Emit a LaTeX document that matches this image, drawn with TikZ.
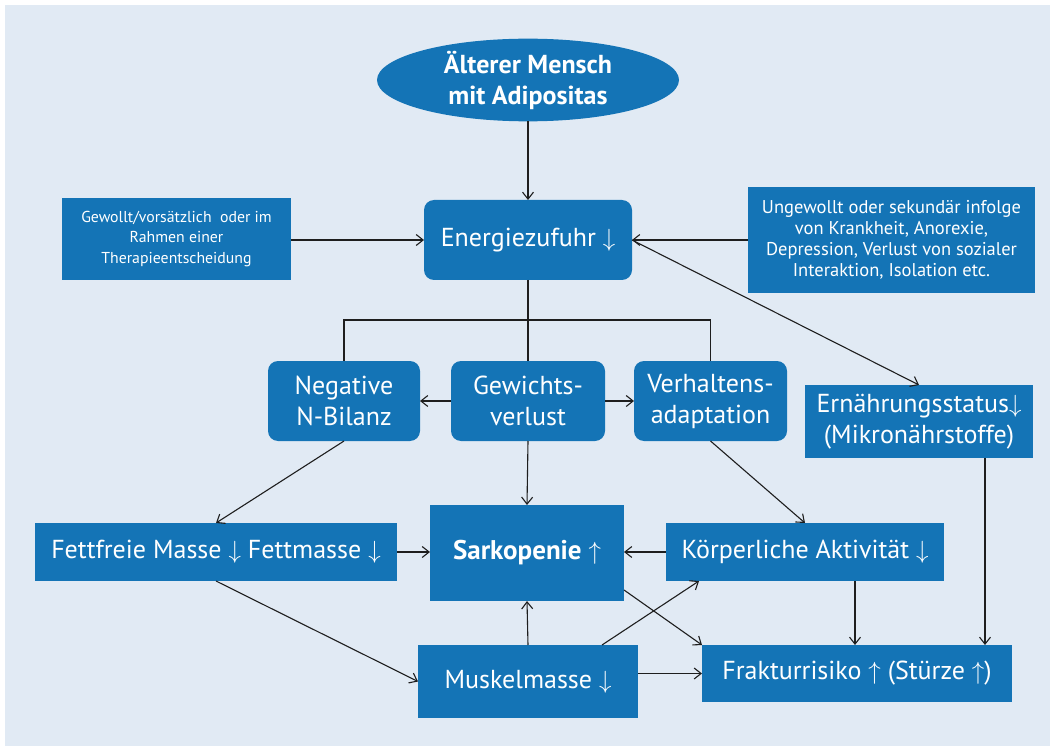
\documentclass[tikz,border=0pt]{standalone}
\usepackage{fontspec}
\setmainfont{PT Sans}
\usetikzlibrary{shapes.geometric,arrows.meta}
\definecolor{boxblue}{RGB}{20,116,182}
\definecolor{bgblue}{RGB}{225,234,244}
\definecolor{linec}{RGB}{30,30,30}
\begin{document}
\begin{tikzpicture}[x=1pt,y=-1pt,
  base/.style={fill=boxblue,text=white,inner sep=0pt,outer sep=0pt,align=center},
  sq/.style={base,rectangle},
  rd/.style={base,rectangle,rounded corners=10pt},
  big/.style={font=\fontsize{26}{31}\selectfont},
  small/.style={font=\fontsize{15.8}{20.5}\selectfont},
  mid/.style={font=\fontsize{18.5}{21}\selectfont},
  conn/.style={draw=linec,line width=1.1pt},
  arr/.style={conn,-{Straight Barb[length=7pt,width=11pt,line width=1.1pt]}}]
\useasboundingbox (0,0) rectangle (1050,746);
\fill[white] (0,0) rectangle (1050,746);
\fill[bgblue] (5,5) rectangle (1050,746);

\node[base,ellipse,minimum width=302pt,minimum height=70pt,font=\fontsize{26}{31}\selectfont\bfseries] (ell) at (528,80) {Älterer Mensch\\mit Adipositas};
\node[rd,big,minimum width=208pt,minimum height=80pt] (energie) at (528,240) {Energiezufuhr $\downarrow$};
\node[sq,small,minimum width=229pt,minimum height=82pt] (gewollt) at (176.5,239) {Gewollt/vorsätzlich\ \ oder im\\Rahmen einer\\Therapieentscheidung};
\node[sq,mid,minimum width=287pt,minimum height=106pt] (ungewollt) at (891.5,240) {Ungewollt oder sekundär infolge\\von Krankheit, Anorexie,\\Depression, Verlust von sozialer\\Interaktion, Isolation etc.};
\node[rd,big,minimum width=152pt,minimum height=80pt] (negative) at (344,401) {Negative\\N-Bilanz};
\node[rd,big,minimum width=154pt,minimum height=80pt] (gewichts) at (528,401) {Gewichts-\\verlust};
\node[rd,big,minimum width=153pt,minimum height=80pt] (verhaltens) at (710.5,401) {Verhaltens-\\adaptation};
\node[sq,big,minimum width=228pt,minimum height=73pt] (ernaehrung) at (919,421.5) {Ernährungsstatus$\downarrow$\\(Mikronährstoffe)};
\node[sq,big,minimum width=362pt,minimum height=58pt] (fettfreie) at (216,552) {Fettfreie Masse $\downarrow$ Fettmasse $\downarrow$};
\node[sq,big,minimum width=194pt,minimum height=96pt,font=\fontsize{27}{31}\selectfont\bfseries] (sarko) at (527,553) {Sarkopenie $\uparrow$};
\node[sq,big,minimum width=278pt,minimum height=58pt] (koerper) at (805,552) {Körperliche Aktivität $\downarrow$};
\node[sq,big,minimum width=220pt,minimum height=73pt] (muskel) at (528,681.5) {Muskelmasse $\downarrow$};
\node[sq,big,minimum width=310pt,minimum height=57pt] (fraktur) at (857,673.5) {Frakturrisiko $\uparrow$ (Stürze $\uparrow$)};

\coordinate (bus) at (528,320);
\draw[arr] (ell.south) -- (energie.north);
\draw[arr] (gewollt.east |- energie.west) -- (energie.west);
\draw[arr] (ungewollt.west) -- (energie.east);
\draw[arr] (energie.east) -- (ernaehrung.north);
\draw[conn] (energie.south) -- (gewichts.north);
\draw[conn] (negative.north) -- (negative.north |- bus) -- (verhaltens.north |- bus) -- (verhaltens.north);
\draw[arr] (gewichts.west) -- (negative.east);
\draw[arr] (gewichts.east) -- (verhaltens.west);
\draw[arr] (gewichts.south) -- (sarko.north);
\draw[arr] (negative.south) -- (fettfreie.north);
\draw[arr] (verhaltens.south) -- (koerper.north);
\draw[arr] (fettfreie.east) -- (sarko.west |- fettfreie.east);
\draw[arr] (koerper.west) -- (sarko.east |- koerper.west);
\draw[arr] (fettfreie.south) -- (muskel.west);
\draw[arr] (muskel.north) -- (sarko.south);
\draw[arr] ([xshift=-36pt]muskel.north east) -- ([xshift=33pt]koerper.south west);
\draw[arr] ([yshift=11pt]sarko.south east) -- (fraktur.north west);
\draw[arr] (muskel.east |- fraktur.west) -- (fraktur.west);
\coordinate (k1) at ([xshift=-2pt]fraktur.north |- koerper.south);
\draw[arr] (k1) -- (k1 |- fraktur.north);
\coordinate (e1) at ([xshift=66pt]ernaehrung.south);
\draw[arr] (e1) -- (e1 |- fraktur.north);
\end{tikzpicture}
\end{document}
